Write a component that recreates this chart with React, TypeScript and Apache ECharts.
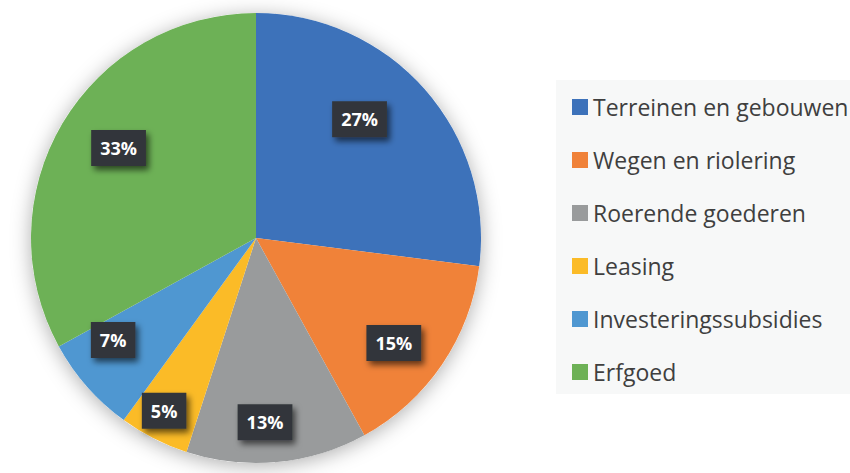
import React, { useEffect, useRef } from "react";
import * as echarts from "echarts";

const categories = [
  "Terreinen en gebouwen",
  "Wegen en riolering",
  "Roerende goederen",
  "Leasing",
  "Investeringssubsidies",
  "Erfgoed",
];
const values = [27, 15, 13, 5, 7, 33];
const colors = ["#3D72BA", "#F08239", "#999B9C", "#FBBB27", "#4F97D1", "#6DB156"];

// label placement: radial fraction and angular shift (degrees) from slice mid-angle
const labelRadius = [0.7, 0.77, 0.82, 0.87, 0.78, 0.73];
const labelShift = [-7.5, 3.1, 2.6, 1, 5.9, 2.6];

const CX = 256;
const CY = 238;
const R = 225;

export default function App() {
  const ref = useRef<HTMLDivElement>(null);
  useEffect(() => {
    document.body.style.margin = "0";
    if (!ref.current) return;
    const chart = echarts.init(ref.current, null, { renderer: "svg" });
    const total = values.reduce((a, b) => a + b, 0);
    const mids: number[] = [];
    let cum = 0;
    values.forEach((v) => {
      mids.push(((cum + v / 2) / total) * 360);
      cum += v;
    });
    chart.setOption({
      animation: false,
      backgroundColor: "#ffffff",
      legend: {
        orient: "vertical",
        left: 556,
        top: 80,
        data: categories,
        icon: "rect",
        itemWidth: 16,
        itemHeight: 16,
        itemGap: 23,
        backgroundColor: "#F7F8F8",
        padding: [12, 40, 7, 16],
        selectedMode: false,
        textStyle: {
          fontFamily: "Open Sans",
          fontSize: 23,
          lineHeight: 30,
          color: "#3F3F3F",
        },
      },
      series: [
        {
          type: "pie",
          silent: true,
          center: [CX, CY],
          radius: R,
          z: 1,
          label: { show: false },
          labelLine: { show: false },
          itemStyle: {
            color: "#ffffff",
            shadowBlur: 20,
            shadowOffsetY: 3,
            shadowColor: "rgba(0,0,0,0.32)",
          },
          data: [{ name: "_bg", value: 1 }],
        },
        {
          type: "pie",
          center: [CX, CY],
          radius: R,
          startAngle: 90,
          clockwise: true,
          z: 2,
          itemStyle: { borderWidth: 0 },
          labelLine: { show: false },
          label: {
            show: true,
            position: "inside",
            formatter: (p: any) => Math.round(p.percent) + "%",
            color: "#ffffff",
            fontFamily: "Open Sans",
            fontWeight: "bold",
            fontSize: 18,
            lineHeight: 21,
            backgroundColor: "#33363A",
            padding: [8, 9, 7, 9],
            align: "center",
            verticalAlign: "middle",
            shadowColor: "rgba(0,0,0,0.6)",
            shadowBlur: 6,
            shadowOffsetX: 3,
            shadowOffsetY: 4,
          },
          labelLayout: (params: any) => {
            if (params.seriesIndex !== 1) return {};
            const i = params.dataIndex;
            const a = ((mids[i] + labelShift[i]) * Math.PI) / 180;
            const r = R * labelRadius[i];
            return { x: CX + r * Math.sin(a), y: CY - r * Math.cos(a) };
          },
          data: categories.map((name, i) => ({
            name,
            value: values[i],
            itemStyle: { color: colors[i] },
          })),
        },
      ],
    });
    return () => chart.dispose();
  }, []);
  return <div ref={ref} style={{ width: 850, height: 473 }} />;
}
